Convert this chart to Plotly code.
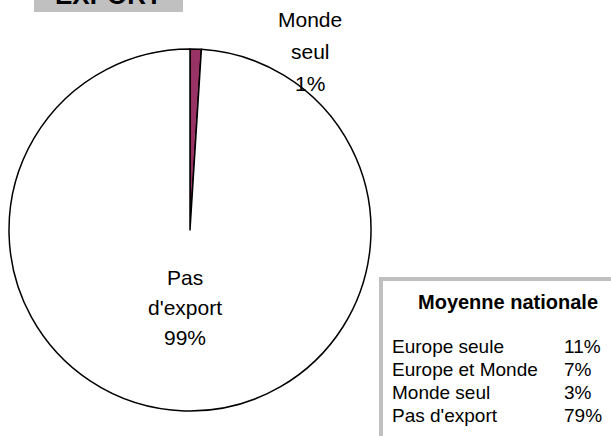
import plotly.graph_objects as go

W, H = 611, 436

# Pie data
pie_labels = ["Monde seul", "Pas d'export"]
pie_values = [1, 99]
pie_label_lines = [["Monde", "seul"], ["Pas", "d'export"]]
pie_colors = ["#993366", "#FFFFFF"]

# National average table
nat_title = "Moyenne nationale"
nat_labels = ["Europe seule", "Europe et Monde", "Monde seul", "Pas d'export"]
nat_values = [11, 7, 3, 79]

chart_title = "EXPORT"

def px_x(x):
    return x / W

def px_y(y):
    return 1 - y / H

cx, cy, r = 190, 230, 181

fig = go.Figure(go.Pie(
    labels=pie_labels,
    values=pie_values,
    sort=False,
    direction="clockwise",
    rotation=0,
    textinfo="none",
    hoverinfo="label+percent",
    marker=dict(colors=pie_colors, line=dict(color="black", width=1.5)),
    domain=dict(x=[px_x(cx - r), px_x(cx + r)], y=[px_y(cy + r), px_y(cy - r)]),
    showlegend=False,
))

shapes = []
# Title box
shapes.append(dict(type="rect", xref="paper", yref="paper",
                   x0=px_x(34), x1=px_x(183), y0=px_y(12), y1=px_y(-5),
                   fillcolor="#C0C0C0", line=dict(width=0), layer="below"))
# National table frame
shapes.append(dict(type="rect", xref="paper", yref="paper",
                   x0=px_x(379), x1=1.02, y0=-0.02, y1=px_y(277),
                   fillcolor="#C0C0C0", line=dict(width=0), layer="below"))
shapes.append(dict(type="rect", xref="paper", yref="paper",
                   x0=px_x(383), x1=1.02, y0=-0.02, y1=px_y(281),
                   fillcolor="#FFFFFF", line=dict(width=0), layer="below"))

font_family = "Liberation Sans, Arial, sans-serif"
ann = []
ann.append(dict(text="<b>%s</b>" % chart_title, x=px_x(108), y=px_y(-5),
                xref="paper", yref="paper", showarrow=False,
                xanchor="center", yanchor="middle",
                font=dict(family=font_family, size=26, color="black")))

# Pie labels
pie_label_pos = [(310, [20, 52, 84]), (185, [277, 307, 337])]
total = sum(pie_values)
for lines, v, (lx, ys) in zip(pie_label_lines, pie_values, pie_label_pos):
    texts = lines + ["%d%%" % round(100 * v / total)]
    for t, yy in zip(texts, ys):
        ann.append(dict(text=t, x=px_x(lx), y=px_y(yy), xref="paper", yref="paper",
                        showarrow=False, xanchor="center", yanchor="middle",
                        font=dict(family=font_family, size=21, color="black")))

# Table
ann.append(dict(text="<b>%s</b>" % nat_title, x=px_x(508), y=px_y(302),
                xref="paper", yref="paper", showarrow=False,
                xanchor="center", yanchor="middle",
                font=dict(family=font_family, size=20, color="black")))
row_y0, row_dy = 346, 23.3
for i, (lab, val) in enumerate(zip(nat_labels, nat_values)):
    yy = row_y0 + i * row_dy
    ann.append(dict(text=lab, x=px_x(390), y=px_y(yy), xref="paper", yref="paper",
                    showarrow=False, xanchor="left", yanchor="middle",
                    font=dict(family=font_family, size=19, color="black")))
    ann.append(dict(text="%d%%" % val, x=px_x(562), y=px_y(yy), xref="paper", yref="paper",
                    showarrow=False, xanchor="left", yanchor="middle",
                    font=dict(family=font_family, size=19, color="black")))

fig.update_layout(
    width=W, height=H,
    margin=dict(l=0, r=0, t=0, b=0),
    paper_bgcolor="white", plot_bgcolor="white",
    shapes=shapes, annotations=ann,
)

fig.write_html("out.html", config={"displayModeBar": False},
               post_script="document.body.style.margin='0';document.body.style.overflow='hidden';")
